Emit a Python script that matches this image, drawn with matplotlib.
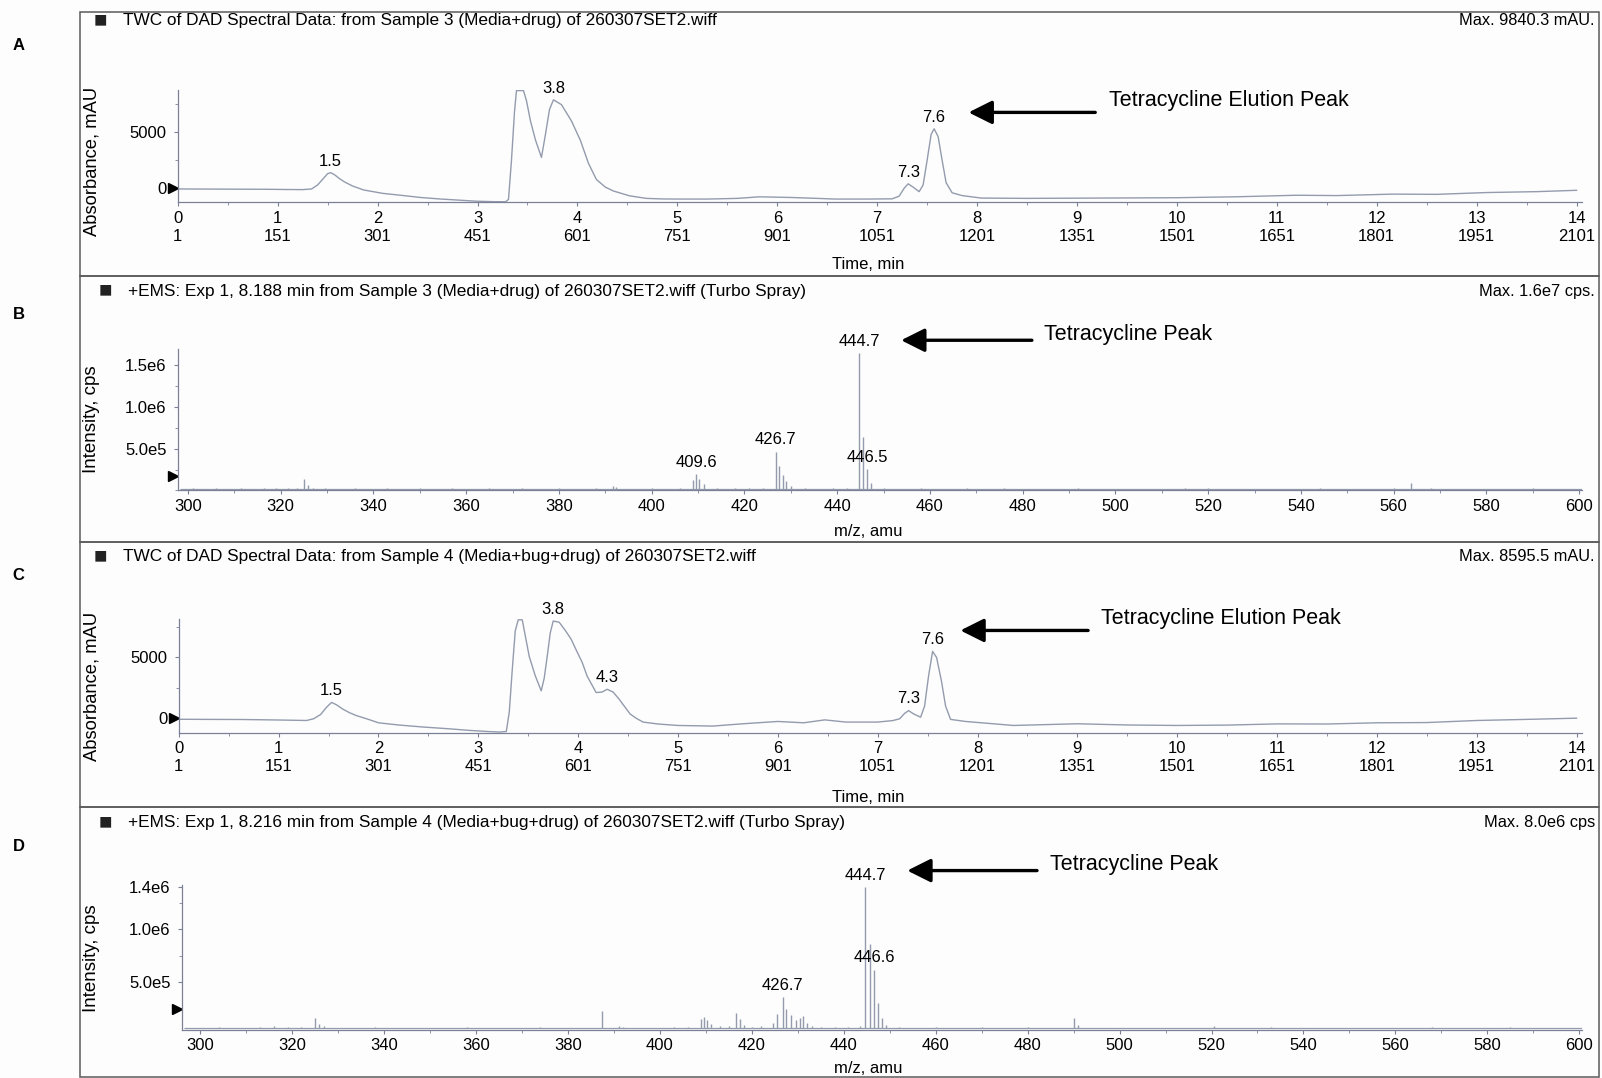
import matplotlib
matplotlib.use('Agg')
import matplotlib.pyplot as plt
import matplotlib.transforms as mtransforms
from matplotlib.patches import Rectangle, FancyArrowPatch
from matplotlib.ticker import MultipleLocator

plt.rcParams['font.family'] = ['Liberation Sans', 'DejaVu Sans']

# ---- DAD chromatograms (time in min, absorbance in mAU) ----
time_a = [0.0, 0.3, 0.6, 0.9, 1.1, 1.25, 1.34, 1.40, 1.45, 1.50, 1.53, 1.57, 1.62, 1.67, 1.75,
          1.86, 2.05, 2.25, 2.43, 2.62, 2.82, 2.99, 3.15, 3.28, 3.31, 3.34, 3.37, 3.39, 3.46,
          3.49, 3.53, 3.58, 3.64, 3.68, 3.72, 3.76, 3.84, 3.94, 4.03, 4.11, 4.19, 4.28, 4.36,
          4.52, 4.69, 4.85, 5.02, 5.3, 5.6, 5.82, 6.14, 6.4, 6.58, 6.9, 7.15, 7.22, 7.27, 7.31,
          7.36, 7.42, 7.46, 7.50, 7.54, 7.57, 7.61, 7.65, 7.69, 7.75, 7.85, 8.04, 8.5, 9.0, 9.5,
          10.0, 10.58, 11.2, 11.6, 12.16, 12.6, 13.1, 13.6, 14.0]
abs_a = [-60, -70, -80, -90, -110, -120, -60, 300, 800, 1300, 1390, 1200, 850, 560, 200,
         -150, -450, -640, -820, -950, -1060, -1150, -1190, -1200, -1000, 2500, 6800, 8700, 8700,
         7800, 6000, 4300, 2750, 4800, 7000, 7880, 7450, 6000, 4260, 2230, 780, 100, -240,
         -670, -900, -950, -960, -960, -900, -760, -820, -900, -960, -960, -940, -700, 0, 400,
         100, -300, 300, 2500, 4800, 5300, 4600, 2500, 500, -400, -650, -870, -900, -880, -860,
         -840, -760, -620, -650, -520, -540, -380, -300, -180]
peaks_a_t = [1.53, 3.76, 7.31, 7.57]
peaks_a_lbl = ['1.5', '3.8', '7.3', '7.6']

time_c = [0.0, 0.3, 0.65, 1.0, 1.28, 1.35, 1.42, 1.48, 1.53, 1.58, 1.64, 1.71, 1.78, 1.9, 2.0,
          2.2, 2.45, 2.7, 2.9, 3.1, 3.21, 3.28, 3.31, 3.34, 3.37, 3.40, 3.44, 3.47, 3.51, 3.57,
          3.63, 3.66, 3.69, 3.72, 3.75, 3.81, 3.87, 3.93, 3.98, 4.04, 4.09, 4.18, 4.24, 4.29,
          4.35, 4.41, 4.47, 4.52, 4.58, 4.65, 4.8, 5.0, 5.35, 5.65, 6.0, 6.26, 6.47, 6.68, 7.0,
          7.15, 7.22, 7.27, 7.31, 7.36, 7.43, 7.47, 7.51, 7.55, 7.59, 7.64, 7.68, 7.73, 7.88,
          8.36, 9.0, 9.5, 10.0, 10.5, 11.0, 11.5, 12.0, 12.5, 13.0, 13.5, 14.0]
abs_c = [-90, -100, -110, -150, -190, -50, 300, 900, 1300, 1100, 760, 450, 210, -100, -380,
         -560, -730, -870, -1000, -1100, -1140, -1100, 500, 4000, 7200, 8100, 8100, 6800, 5080, 3500,
         2250, 3300, 5080, 7000, 8000, 7900, 7240, 6500, 5620, 4600, 3460, 2110, 2150, 2380,
         2150, 1570, 900, 350, 0, -320, -480, -600, -650, -460, -270, -380, -140, -320, -320,
         -200, -50, 400, 620, 350, 80, 1000, 3500, 5500, 5000, 3000, 1000, -100, -270,
         -600, -460, -560, -600, -570, -470, -480, -380, -360, -190, -100, 0]
peaks_c_t = [1.53, 3.75, 4.29, 7.31, 7.55]
peaks_c_lbl = ['1.5', '3.8', '4.3', '7.3', '7.6']

time_ticks = list(range(15))
scan_ticks = [1, 151, 301, 451, 601, 751, 901, 1051, 1201, 1351, 1501, 1651, 1801, 1951, 2101]

# ---- mass spectra (m/z, intensity in cps) ----
mz_b = [301, 303.5, 306, 309, 311.5, 314, 316.5, 319, 321.5, 323.5, 325.0, 325.8, 327, 329.5,
        333, 336, 339, 343, 346, 350, 353, 357, 361, 365, 368, 372, 376, 380, 384, 388,
        391.7, 392.4, 396, 400, 403, 406, 409.0, 409.6, 410.3, 411.2, 414, 418, 421, 424,
        426.7, 427.4, 428.2, 429.0, 430.0, 433, 436, 439, 442, 444.7, 445.6, 446.5, 447.3,
        450, 454, 458, 463, 468, 472, 476, 481, 486, 492, 498, 504, 510, 515, 520, 526,
        532, 538, 544, 550, 556, 560, 563.8, 568, 573, 578, 584, 590, 595, 599]
int_b = [2.5e4, 1.8e4, 2.6e4, 2.0e4, 2.8e4, 2.2e4, 3.0e4, 2.4e4, 2.9e4, 3.2e4, 1.4e5, 7.0e4, 3.5e4, 2.6e4,
         2.2e4, 2.7e4, 2.0e4, 2.5e4, 1.9e4, 2.6e4, 2.1e4, 2.4e4, 2.0e4, 2.7e4, 2.2e4, 2.5e4, 2.0e4, 2.6e4, 2.1e4, 2.6e4,
         5.0e4, 3.6e4, 2.2e4, 2.5e4, 2.0e4, 2.6e4, 1.3e5, 2.0e5, 1.4e5, 8.0e4, 3.0e4, 2.4e4, 2.8e4, 2.6e4,
         4.65e5, 2.9e5, 1.9e5, 1.1e5, 5.0e4, 2.6e4, 2.2e4, 2.6e4, 3.0e4, 1.65e6, 6.4e5, 2.6e5, 9.0e4,
         3.0e4, 2.2e4, 2.5e4, 2.0e4, 2.4e4, 2.1e4, 3.2e4, 2.2e4, 2.0e4, 2.4e4, 2.1e4, 2.2e4, 2.0e4, 2.5e4, 3.2e4, 2.1e4,
         2.2e4, 2.0e4, 2.4e4, 2.1e4, 2.3e4, 2.6e4, 9.0e4, 2.4e4, 2.0e4, 2.3e4, 2.1e4, 2.4e4, 2.0e4, 2.2e4]
peaks_b_mz = [409.6, 426.7, 444.7, 446.5]
peaks_b_lbl = ['409.6', '426.7', '444.7', '446.5']

mz_d = [301, 304, 307, 310, 313, 316, 319, 322, 325.0, 325.8, 327, 330, 334, 338, 342, 346,
        350, 354, 358, 362, 366, 370, 374, 378, 382, 385, 387.5, 391.0, 392.0, 395, 399, 403,
        406, 408.9, 409.6, 410.3, 411.2, 413, 415, 416.6, 417.4, 418.3, 420, 422, 424.5, 425.5,
        426.7, 427.5, 428.5, 429.5, 430.5, 431.2, 432.0, 433.0, 435, 438, 441, 443.5, 444.7,
        445.8, 446.6, 447.4, 448.3, 449.2, 452, 456, 460, 465, 470, 475, 480, 485, 490.1, 491.0,
        495, 500, 505, 510, 515, 520.5, 526, 533, 538, 544, 550, 556, 562, 568, 574, 580, 585,
        590, 596]
int_d = [7.0e4, 7.5e4, 6.8e4, 7.2e4, 7.8e4, 8.5e4, 7.4e4, 8.0e4, 1.6e5, 1.1e5, 9.0e4, 7.2e4, 7.0e4, 7.4e4, 6.8e4, 7.2e4,
         7.0e4, 6.8e4, 7.6e4, 7.0e4, 7.3e4, 6.9e4, 7.5e4, 7.0e4, 7.2e4, 6.8e4, 2.3e5, 9.0e4, 8.0e4, 7.0e4, 7.3e4, 7.6e4,
         8.0e4, 1.5e5, 1.76e5, 1.4e5, 1.1e5, 8.5e4, 9.0e4, 2.1e5, 1.5e5, 1.0e5, 8.0e4, 9.0e4, 1.2e5, 2.0e5,
         3.6e5, 2.5e5, 1.9e5, 1.4e5, 1.6e5, 1.8e5, 1.2e5, 9.0e4, 8.0e4, 7.5e4, 7.8e4, 9.0e4, 1.40e6,
         8.6e5, 6.2e5, 3.0e5, 1.6e5, 1.0e5, 7.8e4, 7.2e4, 7.5e4, 7.0e4, 7.4e4, 7.0e4, 7.6e4, 7.2e4, 1.6e5, 1.0e5,
         7.2e4, 7.0e4, 7.3e4, 6.9e4, 7.2e4, 8.5e4, 7.0e4, 8.2e4, 7.0e4, 7.3e4, 6.9e4, 7.2e4, 7.0e4, 7.4e4, 7.0e4, 7.2e4, 8.0e4,
         7.0e4, 7.2e4]
peaks_d_mz = [426.7, 444.7, 446.6]
peaks_d_lbl = ['426.7', '444.7', '446.6']

mz_ticks = list(range(300, 601, 20))

TRACE = '#939bad'
AXIS = '#7b8096'
W, H = 1568, 1055


def fx(x):
    return x / W


def fy(y):
    return 1 - y / H


def add_axes(left, right, top, bottom):
    return fig.add_axes([fx(left), fy(bottom), fx(right) - fx(left), fy(top) - fy(bottom)])


def style_axes(ax):
    for side in ('top', 'right'):
        ax.spines[side].set_visible(False)
    for side in ('left', 'bottom'):
        ax.spines[side].set_color(AXIS)
        ax.spines[side].set_linewidth(0.9)
    ax.set_facecolor('none')
    ax.tick_params(axis='both', which='major', direction='out', length=3, width=0.8,
                   color=AXIS, labelsize=12, pad=3)
    ax.tick_params(axis='y', which='major', pad=5)
    ax.tick_params(axis='both', which='minor', direction='out', length=2, width=0.6, color=AXIS)


def offset_marker(ax, level):
    trans = mtransforms.blended_transform_factory(ax.transAxes, ax.transData)
    ax.plot([-0.0035], [level], marker='>', color='black', ms=7, transform=trans, clip_on=False)


def plot_chromatogram(ax, t, a, pk_t, pk_lbl, ylim, xlim=(0, 14.05)):
    """Draw a DAD total wavelength chromatogram with retention-time labels."""
    ax.plot(t, a, color=TRACE, lw=1.0)
    ax.set_xlim(*xlim)
    ax.set_ylim(*ylim)
    style_axes(ax)
    ax.set_xticks(time_ticks)
    ax.set_xticklabels([f'{tm}\n{sc}' for tm, sc in zip(time_ticks, scan_ticks)])
    for lbl in ax.get_xticklabels():
        lbl.set_linespacing(1.25)
    ax.xaxis.set_minor_locator(MultipleLocator(0.5))
    ax.set_yticks([0, 5000])
    ax.set_yticklabels(['0', '5000'])
    ax.yaxis.set_minor_locator(MultipleLocator(2500))
    for pt, lbl in zip(pk_t, pk_lbl):
        val = a[t.index(pt)]
        ax.annotate(lbl, xy=(pt, val), xytext=(0, 3), textcoords='offset points',
                    ha='center', va='bottom', fontsize=12)
    offset_marker(ax, 0)


def plot_spectrum(ax, mz, inten, pk_mz, pk_lbl, ylim, xlim, yticks, ylabels, base, marker_level):
    """Draw a profile mass spectrum as sticks over the baseline."""
    ax.hlines(base, xlim[0] + 0.5, xlim[1], color=TRACE, lw=0.9)
    ax.vlines(mz, base, inten, color=TRACE, lw=1.0)
    ax.set_xlim(*xlim)
    ax.set_ylim(*ylim)
    style_axes(ax)
    ax.set_xticks(mz_ticks)
    ax.xaxis.set_minor_locator(MultipleLocator(10))
    ax.set_yticks(yticks)
    ax.set_yticklabels(ylabels)
    ax.yaxis.set_minor_locator(MultipleLocator(2.5e5))
    for m, lbl in zip(pk_mz, pk_lbl):
        val = inten[mz.index(m)]
        ax.annotate(lbl, xy=(m, val), xytext=(0, 3), textcoords='offset points',
                    ha='center', va='bottom', fontsize=12)
    offset_marker(ax, marker_level)


def arrow_note(x_tip, x_tail, y_arrow, x_text, y_text, text):
    fig.add_artist(FancyArrowPatch(
        (fx(x_tail), fy(y_arrow)), (fx(x_tip), fy(y_arrow)), transform=fig.transFigure,
        arrowstyle='-|>,head_length=0.9,head_width=0.45', mutation_scale=16,
        color='black', lw=2.4, shrinkA=0, shrinkB=0))
    fig.text(fx(x_text), fy(y_text), text, fontsize=15.5, ha='left', va='center')


def header(y, x_text, title, maxtext):
    fig.text(fx(x_text - 22), fy(y), '\u25a0', fontsize=16, ha='center', va='center', color='#222222')
    fig.text(fx(x_text), fy(y), title, fontsize=12.4, ha='left', va='center')
    fig.text(fx(1561), fy(y), maxtext, fontsize=11.8, ha='right', va='center')


fig = plt.figure(figsize=(16.02, 10.78), dpi=100)
fig.patch.set_facecolor('#fdfdfd')

# panel frames
for top, bottom in [(12, 270), (270, 530), (530, 790), (790, 1054)]:
    fig.add_artist(Rectangle((fx(78), fy(bottom)), fx(1565) - fx(78), fy(top) - fy(bottom),
                             transform=fig.transFigure, fill=False, edgecolor='#5a5a5a', lw=1.1))

for letter, y in zip('ABCD', [45, 308, 563, 828]):
    fig.text(fx(18), fy(y), letter, fontsize=12, fontweight='bold', ha='center', va='center')

# A: chromatogram, sample 3
ax_a = add_axes(174, 1548, 88, 198)
plot_chromatogram(ax_a, time_a, abs_a, peaks_a_t, peaks_a_lbl, ylim=(-1250, 8760))
header(20, 120, 'TWC of DAD Spectral Data: from Sample 3 (Media+drug) of 260307SET2.wiff',
       'Max. 9840.3 mAU.')
fig.text(fx(90), fy(158), 'Absorbance, mAU', rotation=90, fontsize=13.2, ha='center', va='center')
fig.text(fx(850), fy(259), 'Time, min', fontsize=12, ha='center', va='center')
arrow_note(948, 1072, 110, 1085, 98, 'Tetracycline Elution Peak')

# B: mass spectrum at 8.188 min, sample 3
ax_b = add_axes(174, 1548, 342, 480)
plot_spectrum(ax_b, mz_b, int_b, peaks_b_mz, peaks_b_lbl, ylim=(0, 1.69e6), xlim=(297.8, 600.5),
              yticks=[5e5, 1e6, 1.5e6], ylabels=['5.0e5', '1.0e6', '1.5e6'], base=1.2e4,
              marker_level=1.7e5)
header(285, 125, '+EMS: Exp 1, 8.188 min from Sample 3 (Media+drug) of 260307SET2.wiff (Turbo Spray)',
       'Max. 1.6e7 cps.')
fig.text(fx(90), fy(410), 'Intensity, cps', rotation=90, fontsize=13.5, ha='center', va='center')
fig.text(fx(850), fy(520), 'm/z, amu', fontsize=12, ha='center', va='center')
arrow_note(882, 1010, 333, 1022, 327, 'Tetracycline Peak')

# C: chromatogram, sample 4
ax_c = add_axes(175, 1548, 606, 717)
plot_chromatogram(ax_c, time_c, abs_c, peaks_c_t, peaks_c_lbl, ylim=(-1190, 8150))
header(545, 120, 'TWC of DAD Spectral Data: from Sample 4 (Media+bug+drug) of 260307SET2.wiff',
       'Max. 8595.5 mAU.')
fig.text(fx(90), fy(672), 'Absorbance, mAU', rotation=90, fontsize=13.2, ha='center', va='center')
fig.text(fx(850), fy(780), 'Time, min', fontsize=12, ha='center', va='center')
arrow_note(940, 1065, 617, 1078, 605, 'Tetracycline Elution Peak')

# D: mass spectrum at 8.216 min, sample 4
ax_d = add_axes(178, 1548, 866, 1008)
plot_spectrum(ax_d, mz_d, int_d, peaks_d_mz, peaks_d_lbl, ylim=(5e4, 1.42e6), xlim=(296.0, 600.5),
              yticks=[5e5, 1e6, 1.4e6], ylabels=['5.0e5', '1.0e6', '1.4e6'], base=6.5e4,
              marker_level=2.5e5)
header(805, 125, '+EMS: Exp 1, 8.216 min from Sample 4 (Media+bug+drug) of 260307SET2.wiff (Turbo Spray)',
       'Max. 8.0e6 cps')
fig.text(fx(90), fy(938), 'Intensity, cps', rotation=90, fontsize=13.5, ha='center', va='center')
fig.text(fx(850), fy(1046), 'm/z, amu', fontsize=12, ha='center', va='center')
arrow_note(888, 1015, 852, 1028, 846, 'Tetracycline Peak')

fig.savefig('out.png', dpi=100, facecolor=fig.get_facecolor())
